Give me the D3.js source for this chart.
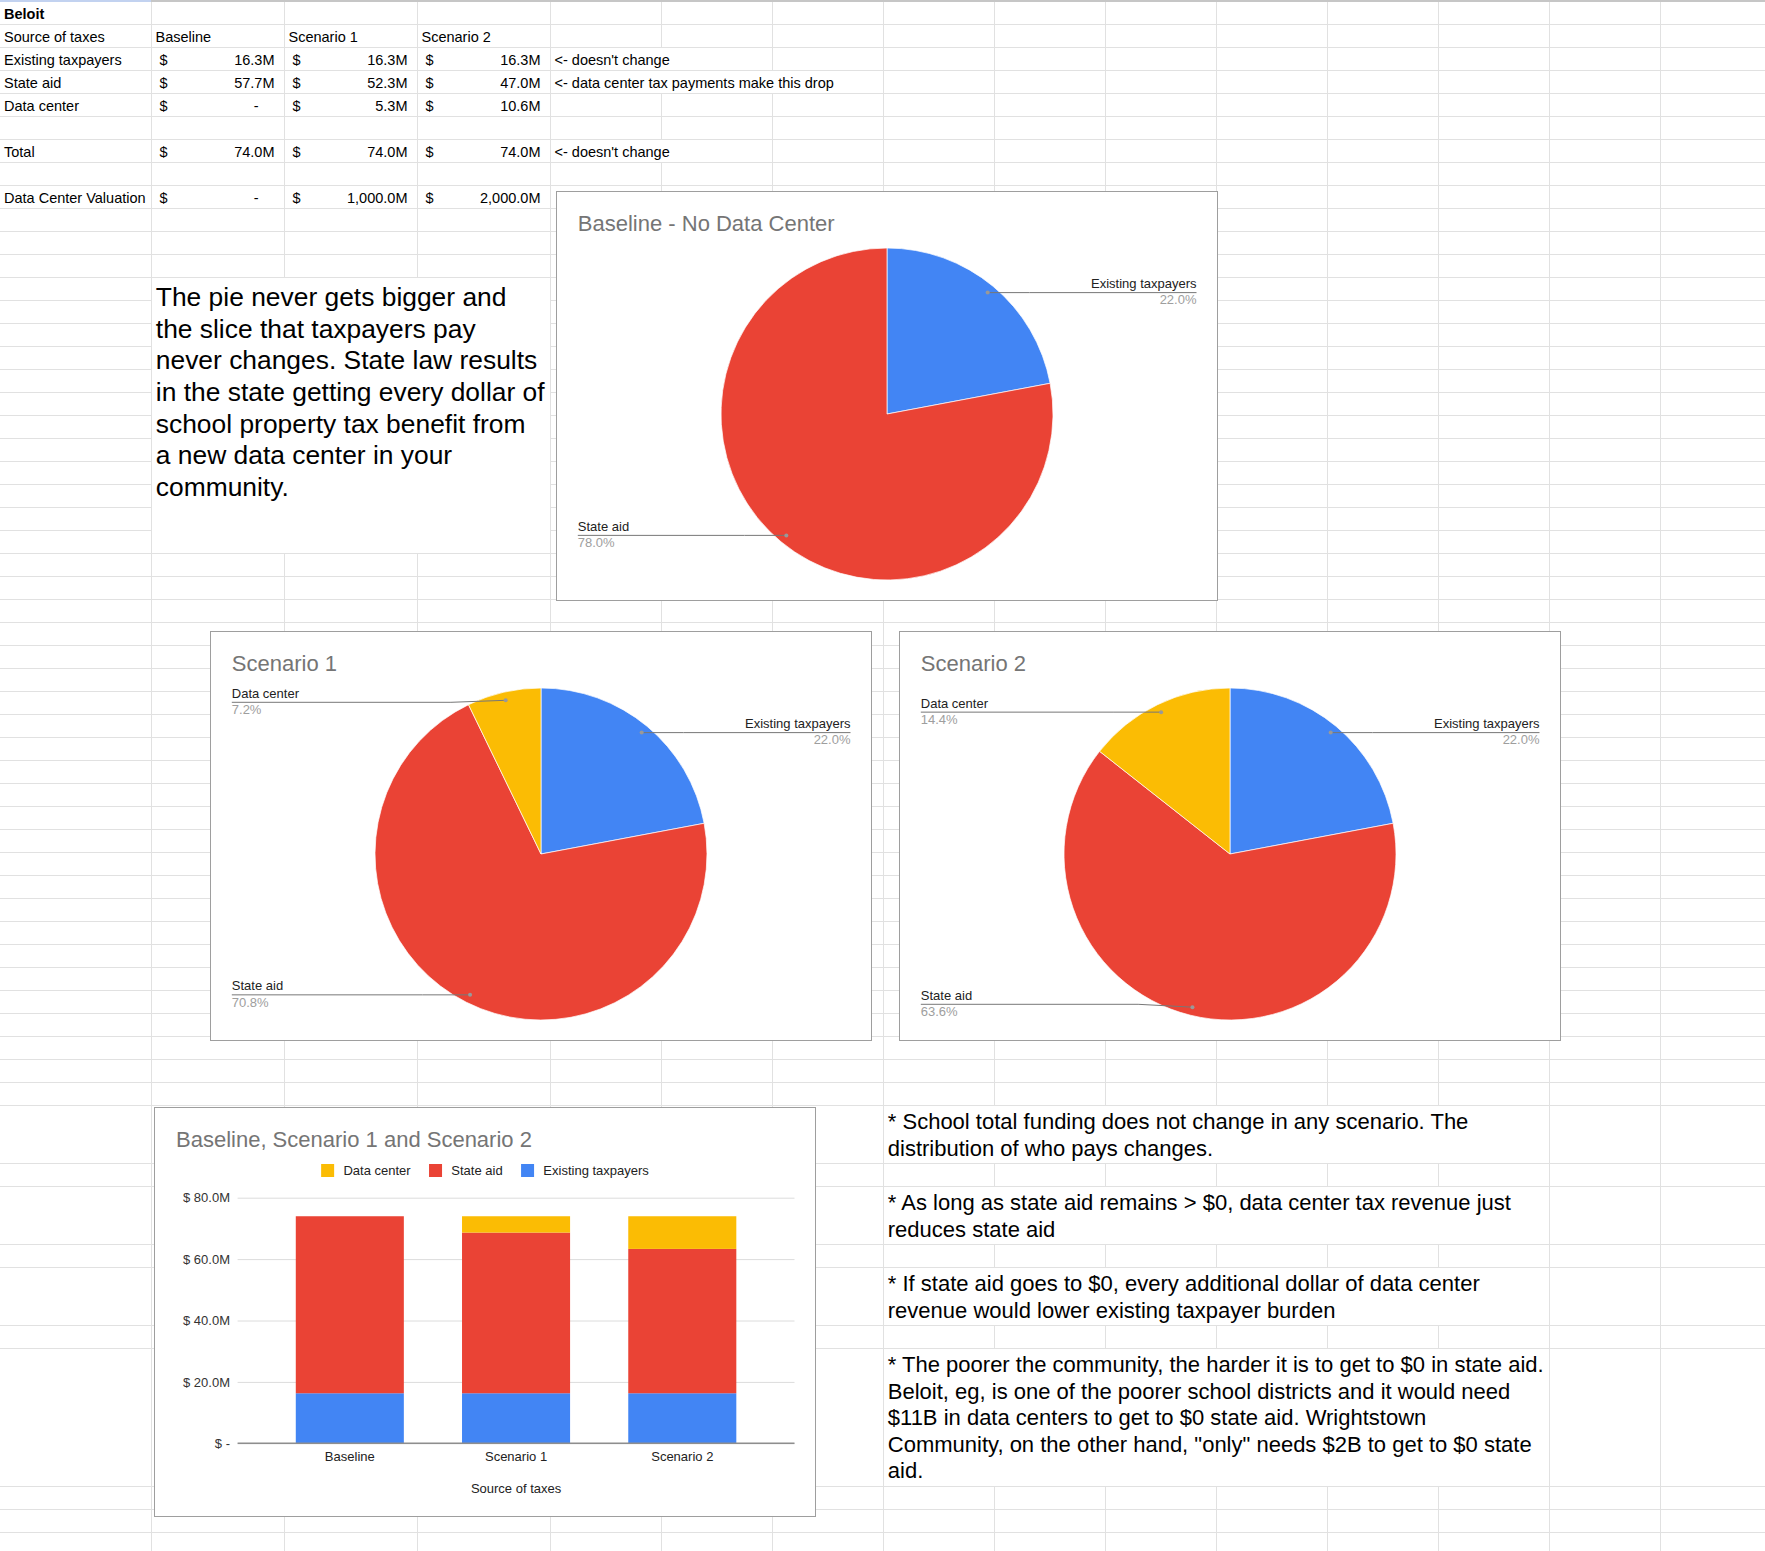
<!DOCTYPE html>
<html>
<head>
<meta charset="utf-8">
<script src="https://cdnjs.cloudflare.com/ajax/libs/d3/7.8.5/d3.min.js"></script>
<style>
  body { margin: 0; background: #fff; }
  svg text { font-family: "Liberation Sans", Arial, sans-serif; }
  .cell { font-size: 14.5px; fill: #000; }
  .chart-title { font-size: 22px; fill: #757575; }
  .chart-label { font-size: 13px; fill: #222; }
  .chart-pct { font-size: 13px; fill: #9e9e9e; }
</style>
</head>
<body>
<div id="sheet"></div>
<script>
// ---- data (values in $M) ----
var scenarios = ["Baseline", "Scenario 1", "Scenario 2"];
var sources = ["Existing taxpayers", "State aid", "Data center"];
var existingTaxpayers = [16.30, 16.30, 16.30];
var stateAid = [57.66, 52.34, 47.02];
var dataCenter = [0, 5.32, 10.64];
var dataCenterValuation = [0, 1000, 2000];
var yTicks = [0, 20, 40, 60, 80];
var pieTitles = ["Baseline - No Data Center", "Scenario 1", "Scenario 2"];
var barTitle = "Baseline, Scenario 1 and Scenario 2";

var paragraph = [
  "The pie never gets bigger and",
  "the slice that taxpayers pay",
  "never changes. State law results",
  "in the state getting every dollar of",
  "school property tax benefit from",
  "a new data center in your",
  "community."
];
var bullets = [
  ["* School total funding does not change in any scenario. The",
   "distribution of who pays changes."],
  ["* As long as state aid remains > $0, data center tax revenue just",
   "reduces state aid"],
  ["* If state aid goes to $0, every additional dollar of data center",
   "revenue would lower existing taxpayer burden"],
  ["* The poorer the community, the harder it is to get to $0 in state aid.",
   "Beloit, eg, is one of the poorer school districts and it would need",
   "$11B in data centers to get to $0 state aid. Wrightstown",
   "Community, on the other hand, \"only\" needs $2B to get to $0 state",
   "aid."]
];

var seriesBySource = {
  "Existing taxpayers": existingTaxpayers,
  "State aid": stateAid,
  "Data center": dataCenter
};
var totals = scenarios.map(function (s, i) {
  return existingTaxpayers[i] + stateAid[i] + dataCenter[i];
});

var color = d3.scaleOrdinal()
  .domain(sources)
  .range(["#4285f4", "#ea4335", "#fbbc04"]);

// ---- sheet layout ----
var W = 1765, H = 1551;
var colWidths = [151.5, 133, 133, 133].concat(d3.range(11).map(function () { return 111; }));
var colX = [0];
colWidths.forEach(function (w) { colX.push(colX[colX.length - 1] + w); });

var tallRows = new Map([[49, 58], [51, 58], [53, 58], [55, 138]]);
var rowY = [1]; // rowY[r-1] = top of row r
for (var r = 1; rowY[rowY.length - 1] < H; r++) {
  rowY.push(rowY[r - 1] + (tallRows.get(r) || 23));
}
function rowBottom(r) { return rowY[r]; }
function rowTop(r) { return rowY[r - 1]; }

var merges = [
  { c0: 1, c1: 3, r0: 13, r1: 24 },
  { c0: 7, c1: 12, r0: 49, r1: 49 },
  { c0: 7, c1: 12, r0: 51, r1: 51 },
  { c0: 7, c1: 12, r0: 53, r1: 53 },
  { c0: 7, c1: 12, r0: 55, r1: 55 }
];

var svg = d3.select("#sheet").append("svg")
  .attr("width", W)
  .attr("height", H);

// gridlines
var grid = svg.append("g").attr("stroke", "#e1e1e1").attr("stroke-width", 1);
rowY.forEach(function (y) {
  grid.append("line").attr("x1", 0).attr("x2", W).attr("y1", y + 0.5).attr("y2", y + 0.5);
});
colX.slice(1).forEach(function (x) {
  grid.append("line").attr("x1", x).attr("x2", x).attr("y1", 0).attr("y2", H);
});
// header border at top
svg.append("rect").attr("x", 0).attr("y", 0).attr("width", W).attr("height", 2).attr("fill", "#c6c6c6");
svg.append("rect").attr("x", 0).attr("y", 0).attr("width", colX[1] - 0.5).attr("height", 2).attr("fill", "#c2d2f0");

var masks = svg.append("g").attr("fill", "#fff");
merges.forEach(function (m) {
  masks.append("rect")
    .attr("x", colX[m.c0] + 0.5)
    .attr("y", rowTop(m.r0) + 1)
    .attr("width", colX[m.c1 + 1] - colX[m.c0] - 1)
    .attr("height", rowBottom(m.r1) - rowTop(m.r0) - 1);
});

var cells = svg.append("g");
function cellText(col, row, txt, opts) {
  opts = opts || {};
  var t = cells.append("text")
    .attr("class", "cell")
    .attr("y", rowBottom(row) - 4.9)
    .text(txt);
  if (opts.align === "end") {
    t.attr("x", colX[col + 1] - (opts.pad || 10)).attr("text-anchor", "end");
  } else {
    t.attr("x", colX[col] + (opts.pad || 4));
  }
  if (opts.bold) t.style("font-weight", "bold");
  // text overflowing into the next columns hides their gridlines
  if (opts.overflow) {
    var end = colX[col] + (opts.pad || 4) + t.node().getComputedTextLength();
    var c1 = col;
    while (colX[c1 + 1] < end) c1++;
    if (c1 > col) {
      masks.append("rect")
        .attr("x", colX[col] + 0.5)
        .attr("y", rowTop(row) + 1)
        .attr("width", colX[c1 + 1] - colX[col] - 1)
        .attr("height", rowBottom(row) - rowTop(row) - 1);
    }
  }
  return t;
}

var fmtM = d3.format(",.1f");
function moneyCell(col, row, v) {
  cellText(col, row, "$", { pad: 8 });
  if (Math.round(v * 10) === 0) {
    cellText(col, row, "-", { align: "end", pad: 26 });
  } else {
    cellText(col, row, fmtM(v) + "M", { align: "end", pad: 10 });
  }
}

cellText(0, 1, "Beloit", { bold: true });
cellText(0, 2, "Source of taxes");
scenarios.forEach(function (s, i) { cellText(i + 1, 2, s); });

var tableRows = [
  { row: 3, label: "Existing taxpayers", values: existingTaxpayers, note: "<- doesn't change" },
  { row: 4, label: "State aid", values: stateAid, note: "<- data center tax payments make this drop" },
  { row: 5, label: "Data center", values: dataCenter },
  { row: 7, label: "Total", values: totals, note: "<- doesn't change" },
  { row: 9, label: "Data Center Valuation", values: dataCenterValuation }
];
tableRows.forEach(function (tr) {
  cellText(0, tr.row, tr.label);
  tr.values.forEach(function (v, i) { moneyCell(i + 1, tr.row, v); });
  if (tr.note) cellText(4, tr.row, tr.note, { overflow: true });
});

// paragraph in merged B13:D24
var para = svg.append("text")
  .attr("x", colX[1] + 4.3)
  .attr("y", rowTop(13) + 28.9)
  .style("font-size", "26.4px")
  .attr("fill", "#000");
paragraph.forEach(function (line, i) {
  para.append("tspan").attr("x", colX[1] + 4.3).attr("dy", i === 0 ? 0 : 31.67).text(line);
});

// bullet notes in merged H:M cells
var bulletRows = [49, 51, 53, 55];
bullets.forEach(function (lines, b) {
  var t = svg.append("text")
    .attr("x", colX[7] + 4.3)
    .attr("y", rowTop(bulletRows[b]) + 24.4)
    .style("font-size", "22px")
    .attr("fill", "#000");
  lines.forEach(function (line, i) {
    t.append("tspan").attr("x", colX[7] + 4.3).attr("dy", i === 0 ? 0 : 26.5).text(line);
  });
});

// ---- charts ----
var BOX_W = 661, BOX_H = 409;
var pieBoxes = [
  { x: 556.5, y: 191.5 },
  { x: 210.5, y: 631.5 },
  { x: 899.5, y: 631.5 }
];
var PIE_CX = 330.5, PIE_CY = 222.5, PIE_R = 166;
var LABEL_LEFT_X = 21.3, LABEL_RIGHT_X = 640;
var LABEL_MIN_Y = 70.8, LABEL_MAX_Y = 372.8;
var pctFmt = d3.format(".1%");

function chartFrame(box) {
  var g = svg.append("g").attr("transform", "translate(" + box.x + "," + box.y + ")");
  g.append("rect")
    .attr("width", BOX_W)
    .attr("height", BOX_H)
    .attr("fill", "#fff")
    .attr("stroke", "#9e9e9e");
  return g;
}

function drawPie(i) {
  var g = chartFrame(pieBoxes[i]);
  g.append("text").attr("class", "chart-title").attr("x", 21.3).attr("y", 39.3).text(pieTitles[i]);

  var slices = sources
    .map(function (s) { return { source: s, value: seriesBySource[s][i] }; })
    .filter(function (d) { return d.value > 0; });
  var total = d3.sum(slices, function (d) { return d.value; });
  var arcs = d3.pie().sort(null).value(function (d) { return d.value; })(slices);
  var arc = d3.arc().innerRadius(0).outerRadius(PIE_R);

  g.append("g")
    .attr("transform", "translate(" + PIE_CX + "," + PIE_CY + ")")
    .selectAll("path")
    .data(arcs)
    .join("path")
    .attr("d", arc)
    .attr("fill", function (d) { return color(d.data.source); })
    .attr("stroke", "#fff")
    .attr("stroke-width", 0.7);

  arcs.forEach(function (a) {
    var mid = (a.startAngle + a.endAngle) / 2;
    var dotX = PIE_CX + Math.sin(mid) * PIE_R * 0.95;
    var dotY = PIE_CY - Math.cos(mid) * PIE_R * 0.95;
    var right = Math.sin(mid) > 0;
    var lx = right ? LABEL_RIGHT_X : LABEL_LEFT_X;
    var ly = Math.max(LABEL_MIN_Y, Math.min(LABEL_MAX_Y, dotY));
    var bend = lx + (dotX - lx) * 0.8;
    g.append("path")
      .attr("d", "M" + lx + "," + ly + "L" + bend + "," + ly + "L" + dotX + "," + dotY)
      .attr("fill", "none")
      .attr("stroke", "#777")
      .attr("stroke-width", 1);
    g.append("circle").attr("cx", dotX).attr("cy", dotY).attr("r", 2).attr("fill", "#999");
    g.append("text").attr("class", "chart-label")
      .attr("x", lx).attr("y", ly - 4.5)
      .attr("text-anchor", right ? "end" : "start")
      .text(a.data.source);
    g.append("text").attr("class", "chart-pct")
      .attr("x", lx).attr("y", ly + 11.7)
      .attr("text-anchor", right ? "end" : "start")
      .text(pctFmt(a.data.value / total));
  });
}
[0, 1, 2].forEach(drawPie);

// stacked bar chart
(function () {
  var g = chartFrame({ x: 154.5, y: 1107.5 });
  g.append("text").attr("class", "chart-title").attr("x", 21.5).attr("y", 39).text(barTitle);

  var plotL = 83.1, plotR = 640, plotB = 335.8, plotT = 90.2;
  var x = d3.scaleBand().domain(scenarios).range([plotL, plotR]).paddingInner(0.35).paddingOuter(0.35);
  var y = d3.scaleLinear().domain([0, 80]).range([plotB, plotT]);

  // legend, centred, reversed series order
  var legend = g.append("g");
  var lx = 0;
  sources.slice().reverse().forEach(function (s) {
    var item = legend.append("g").attr("transform", "translate(" + lx + ",0)");
    item.append("rect").attr("y", 56.5).attr("width", 13).attr("height", 13).attr("fill", color(s));
    var t = item.append("text").attr("class", "chart-label").attr("x", 22.3).attr("y", 67.8).text(s);
    lx += 22.3 + t.node().getComputedTextLength() + 18.4;
  });
  lx -= 18.4;
  legend.attr("transform", "translate(" + (BOX_W / 2 - lx / 2) + ",0)");

  var yAxis = g.append("g")
    .attr("transform", "translate(" + plotL + ",0)")
    .call(d3.axisLeft(y)
      .tickValues(yTicks)
      .tickSize(-(plotR - plotL))
      .tickPadding(7.6)
      .tickFormat(function (v) { return v === 0 ? "$ -" : "$ " + d3.format(".1f")(v) + "M"; }));
  yAxis.select(".domain").remove();
  yAxis.selectAll(".tick line").attr("stroke", "#dcdcdc");
  yAxis.selectAll(".tick text")
    .attr("fill", "#333")
    .style("font-size", "13px")
    .style("font-family", "'Liberation Sans', Arial, sans-serif");

  var rows = scenarios.map(function (s, i) {
    var o = { scenario: s };
    sources.forEach(function (src) { o[src] = seriesBySource[src][i]; });
    return o;
  });
  var stacked = d3.stack().keys(sources)(rows);

  g.append("g").selectAll("g")
    .data(stacked)
    .join("g")
    .attr("fill", function (d) { return color(d.key); })
    .selectAll("rect")
    .data(function (d) { return d; })
    .join("rect")
    .attr("x", function (d) { return x(d.data.scenario); })
    .attr("width", x.bandwidth())
    .attr("y", function (d) { return y(d[1]); })
    .attr("height", function (d) { return y(d[0]) - y(d[1]); });

  g.append("line")
    .attr("x1", plotL).attr("x2", plotR)
    .attr("y1", y(0)).attr("y2", y(0))
    .attr("stroke", "#8e8e8e")
    .attr("stroke-width", 1.6);

  var xAxis = g.append("g")
    .attr("transform", "translate(0," + plotB + ")")
    .call(d3.axisBottom(x).tickSize(0).tickPadding(8.2));
  xAxis.select(".domain").remove();
  xAxis.selectAll(".tick text")
    .attr("fill", "#222")
    .style("font-size", "13px")
    .style("font-family", "'Liberation Sans', Arial, sans-serif");

  g.append("text").attr("class", "chart-label")
    .attr("x", (plotL + plotR) / 2)
    .attr("y", 385.5)
    .attr("text-anchor", "middle")
    .text("Source of taxes");
})();
</script>
</body>
</html>
